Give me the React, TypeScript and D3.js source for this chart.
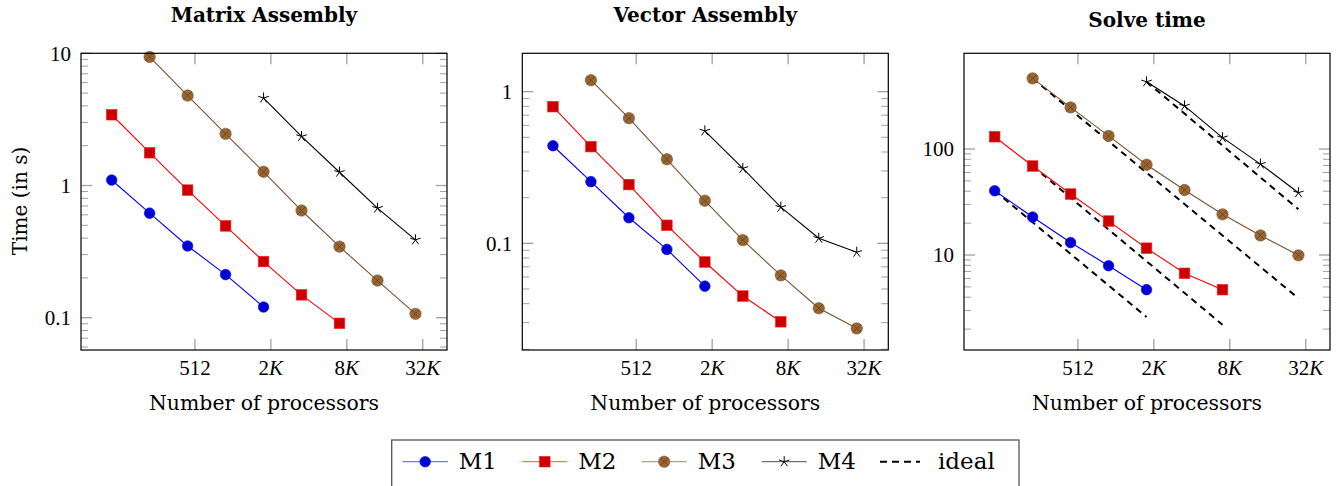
import React from "react";
import * as d3 from "d3";

// ---------- data ----------
const processors = [112, 224, 448, 896, 1792, 3584, 7168, 14336, 28672];
const xTickValues = [512, 2048, 8192, 32768];
const xTickNums = ["512", "2", "8", "32"];
const xTickSuffix = ["", "K", "K", "K"];

const seriesNames = ["M1", "M2", "M3", "M4"];
const seriesStartIdx = [0, 0, 1, 4];

const matrixM1 = [1.1, 0.618, 0.349, 0.212, 0.1205];
const matrixM2 = [3.43, 1.77, 0.923, 0.495, 0.266, 0.149, 0.0907];
const matrixM3 = [9.39, 4.79, 2.46, 1.27, 0.647, 0.345, 0.191, 0.107];
const matrixM4 = [4.59, 2.35, 1.26, 0.674, 0.388];

const vectorM1 = [0.44, 0.255, 0.1475, 0.0912, 0.0522];
const vectorM2 = [0.796, 0.434, 0.244, 0.1315, 0.0753, 0.0449, 0.0304];
const vectorM3 = [1.19, 0.668, 0.358, 0.191, 0.105, 0.0615, 0.0373, 0.0275];
const vectorM4 = [0.551, 0.312, 0.173, 0.108, 0.0873];

const solveM1 = [40.4, 22.8, 13.1, 7.93, 4.71];
const solveM2 = [130.6, 69.1, 37.6, 20.9, 11.6, 6.72, 4.71];
const solveM3 = [464, 247, 133, 71.1, 41.0, 24.2, 15.3, 9.93];
const solveM4 = [431, 255, 128, 72.1, 38.7];

// ideal scaling lines (solve time): start/end processor index and values
const idealStartIdx = [0, 1, 1, 4];
const idealEndIdx = [4, 6, 8, 8];
const idealStartVal = [40.4, 69.1, 464, 431];
const idealEndVal = [2.6, 2.2, 3.9, 27];

const panelTitles = ["Matrix Assembly", "Vector Assembly", "Solve time"];
const panelYDomains = [
  [0.057, 10],
  [0.0198, 1.79],
  [1.27, 800],
];
const panelYMajors = [
  [0.1, 1, 10],
  [0.1, 1],
  [10, 100],
];
const panelYMajorLabels = [
  ["0.1", "1", "10"],
  ["0.1", "1"],
  ["10", "100"],
];
const panelSeries = [
  [matrixM1, matrixM2, matrixM3, matrixM4],
  [vectorM1, vectorM2, vectorM3, vectorM4],
  [solveM1, solveM2, solveM3, solveM4],
];

// ---------- styles ----------
const lineColors = ["#0000ff", "#ff0000", "#7a5230", "#000000"];
const markFill = ["#0000d0", "#cc0000", "#996633", "#000000"];
const markStroke = ["#0000ff", "#ff2020", "#7a5230", "#000000"];

const W = 1339;
const H = 486;
const plotTop = 53.3;
const plotBottom = 350;
const plotW = 366;
const plotLefts = [81, 522.3, 964];
const titleBaselines = [22, 22, 27];
const textFont = "'DejaVu Serif', serif";
const tickFont = "'Liberation Serif', serif";
const tickGray = "#a0a0a0";

function Marker({ kind, x, y }: { kind: number; x: number; y: number }) {
  if (kind === 0) {
    return <circle cx={x} cy={y} r={5.3} fill={markFill[0]} stroke={markStroke[0]} strokeWidth={0.6} />;
  }
  if (kind === 1) {
    const s = 10.6;
    return <rect x={x - s / 2} y={y - s / 2} width={s} height={s} fill={markFill[1]} stroke={markStroke[1]} strokeWidth={0.6} />;
  }
  if (kind === 2) {
    const r = 5.7;
    const d = r * Math.SQRT1_2;
    return (
      <g>
        <circle cx={x} cy={y} r={r} fill={markFill[2]} stroke={markStroke[2]} strokeWidth={0.6} />
        <path d={`M${x - d},${y - d}L${x + d},${y + d}M${x - d},${y + d}L${x + d},${y - d}`} stroke="#5a3a1a" strokeWidth={0.7} />
      </g>
    );
  }
  const r = 5.5;
  let p = "";
  for (let k = 0; k < 5; k++) {
    const a = -Math.PI / 2 + (k * 2 * Math.PI) / 5;
    p += `M${x},${y}L${x + r * Math.cos(a)},${y + r * Math.sin(a)}`;
  }
  return <path d={p} stroke="#000" strokeWidth={1} fill="none" />;
}

function Panel({ idx }: { idx: number }) {
  const left = plotLefts[idx];
  const x = d3.scaleLog().domain([64, 51000]).range([left, left + plotW]);
  const y = d3.scaleLog().domain(panelYDomains[idx]).range([plotBottom, plotTop]);
  const [ymin, ymax] = panelYDomains[idx];
  const majors = panelYMajors[idx];
  const minors: number[] = [];
  majors.forEach((m) => {
    for (let k = 2; k <= 9; k++) {
      const v = (m / 10) * k;
      if (v >= ymin && v <= ymax) minors.push(v);
    }
  });
  const line = d3
    .line<[number, number]>()
    .x((d) => x(d[0]))
    .y((d) => y(d[1]));
  const series = panelSeries[idx];
  const cx = left + plotW / 2;
  return (
    <g>
      <text x={cx} y={titleBaselines[idx]} textAnchor="middle" fontFamily={textFont} fontWeight="bold" fontSize={20}>
        {panelTitles[idx]}
      </text>
      {/* ticks */}
      {xTickValues.map((v, i) => (
        <g key={"xt" + i}>
          <line x1={x(v)} x2={x(v)} y1={plotBottom} y2={plotBottom - 11} stroke={tickGray} strokeWidth={1.3} />
          <line x1={x(v)} x2={x(v)} y1={plotTop} y2={plotTop + 11} stroke={tickGray} strokeWidth={1.3} />
          <text x={x(v)} y={375} textAnchor="middle" fontFamily={tickFont} fontSize={21}>
            {xTickNums[i]}
            {xTickSuffix[i] && <tspan fontStyle="italic">{xTickSuffix[i]}</tspan>}
          </text>
        </g>
      ))}
      {majors.map((v, i) => (
        <g key={"ym" + i}>
          <line x1={left} x2={left + 11} y1={y(v)} y2={y(v)} stroke={tickGray} strokeWidth={1.3} />
          <line x1={left + plotW} x2={left + plotW - 11} y1={y(v)} y2={y(v)} stroke={tickGray} strokeWidth={1.3} />
          <text x={left - 10} y={y(v)} dy="0.35em" textAnchor="end" fontFamily={tickFont} fontSize={21}>
            {panelYMajorLabels[idx][i]}
          </text>
        </g>
      ))}
      {minors.map((v, i) => (
        <g key={"yn" + i}>
          <line x1={left} x2={left + 7} y1={y(v)} y2={y(v)} stroke={tickGray} strokeWidth={1} />
          <line x1={left + plotW} x2={left + plotW - 7} y1={y(v)} y2={y(v)} stroke={tickGray} strokeWidth={1} />
        </g>
      ))}
      {/* ideal lines */}
      {idx === 2 &&
        idealStartIdx.map((s, i) => (
          <path
            key={"id" + i}
            d={line([
              [processors[s], idealStartVal[i]],
              [processors[idealEndIdx[i]], idealEndVal[i]],
            ]) as string}
            stroke="#000"
            strokeWidth={2}
            strokeDasharray="6.5 5"
            fill="none"
          />
        ))}
      {/* series */}
      {series.map((vals, si) => {
        const pts: [number, number][] = vals.map((v, j) => [processors[seriesStartIdx[si] + j], v]);
        return (
          <g key={"s" + si}>
            <path d={line(pts) as string} stroke={lineColors[si]} strokeWidth={1.1} fill="none" />
            {pts.map((p, j) => (
              <Marker key={j} kind={si} x={x(p[0])} y={y(p[1])} />
            ))}
          </g>
        );
      })}
      {/* frame */}
      <rect x={left} y={plotTop} width={plotW} height={plotBottom - plotTop} fill="none" stroke="#000" strokeWidth={1.2} />
      <text x={cx} y={410} textAnchor="middle" fontFamily={textFont} fontSize={20.4}>
        Number of processors
      </text>
    </g>
  );
}

const legendSampleStarts = [402.7, 522.3, 641.7, 761.7, 880];
const legendLabels = ["M1", "M2", "M3", "M4", "ideal"];

function Legend() {
  const cy = 461.7;
  return (
    <g>
      <rect x={391.7} y={440} width={627.3} height={70} fill="#fff" stroke="#555" strokeWidth={1.3} />
      {legendLabels.map((lab, i) => {
        const x0 = legendSampleStarts[i];
        const isIdeal = i === 4;
        const x1 = x0 + (isIdeal ? 40 : 45);
        return (
          <g key={lab}>
            {isIdeal ? (
              <line x1={x0} x2={x1} y1={cy} y2={cy} stroke="#000" strokeWidth={2} strokeDasharray="7 5" />
            ) : (
              <g>
                <line x1={x0} x2={x1} y1={cy} y2={cy} stroke={lineColors[i]} strokeOpacity={0.55} strokeWidth={1.3} />
                <Marker kind={i} x={(x0 + x1) / 2} y={cy} />
              </g>
            )}
            <text x={x1 + (isIdeal ? 18 : 11)} y={469.3} fontFamily={textFont} fontSize={23}>
              {lab}
            </text>
          </g>
        );
      })}
    </g>
  );
}

export default function App() {
  return (
    <div style={{ position: "absolute", left: 0, top: 0 }}>
      <svg width={W} height={H} style={{ display: "block", background: "#fff" }}>
        <Panel idx={0} />
        <Panel idx={1} />
        <Panel idx={2} />
        <text transform="translate(27,201) rotate(-90)" textAnchor="middle" fontFamily={textFont} fontSize={20}>
          Time (in s)
        </text>
        <Legend />
      </svg>
    </div>
  );
}
